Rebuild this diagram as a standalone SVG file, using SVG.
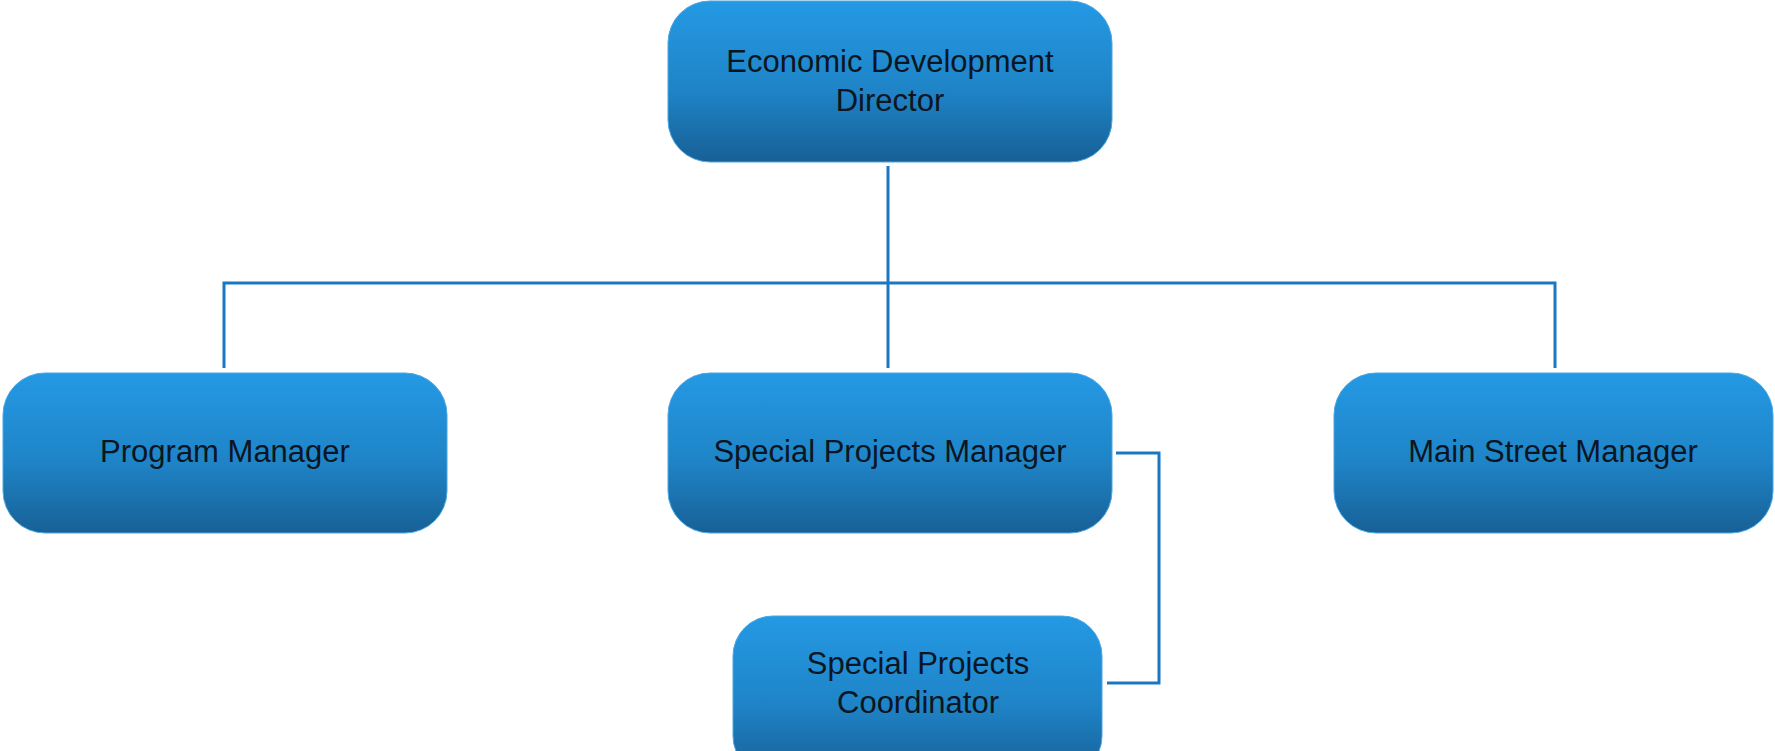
<svg xmlns="http://www.w3.org/2000/svg" width="1775" height="751" viewBox="0 0 1775 751">
<defs>
<linearGradient id="g" x1="0" y1="0" x2="0" y2="1">
<stop offset="0" stop-color="#2499e4"/>
<stop offset="0.55" stop-color="#1f84c7"/>
<stop offset="1" stop-color="#176096"/>
</linearGradient>
<style>
.box{fill:url(#g);stroke:#4aa6e0;stroke-width:1}
.t{font-family:"Liberation Sans",Arial,sans-serif;font-size:31px;fill:#0b1622;text-anchor:middle}
.c{fill:none;stroke:#1b77c2;stroke-width:3}
</style>
</defs>
<rect width="1775" height="751" fill="#ffffff"/>
<g id="connectors">
<path class="c" d="M888 166 V368"/>
<path class="c" d="M224 368 V283 H1555 V368"/>
<path class="c" d="M1116 453 H1159 V683 H1107"/>
</g>
<g id="director">
<rect class="box" x="668" y="1" width="444" height="161" rx="42"/>
<text class="t" x="890" y="72">Economic Development</text>
<text class="t" x="890" y="111">Director</text>
</g>
<g id="program-manager">
<rect class="box" x="3" y="373" width="444" height="160" rx="42"/>
<text class="t" x="225" y="462">Program Manager</text>
</g>
<g id="special-projects-manager">
<rect class="box" x="668" y="373" width="444" height="160" rx="42"/>
<text class="t" x="890" y="462">Special Projects Manager</text>
</g>
<g id="main-street-manager">
<rect class="box" x="1334" y="373" width="439" height="160" rx="42"/>
<text class="t" x="1553" y="462">Main Street Manager</text>
</g>
<g id="special-projects-coordinator">
<rect class="box" x="733" y="616" width="369" height="160" rx="40"/>
<text class="t" x="918" y="674">Special Projects</text>
<text class="t" x="918" y="713">Coordinator</text>
</g>
</svg>
